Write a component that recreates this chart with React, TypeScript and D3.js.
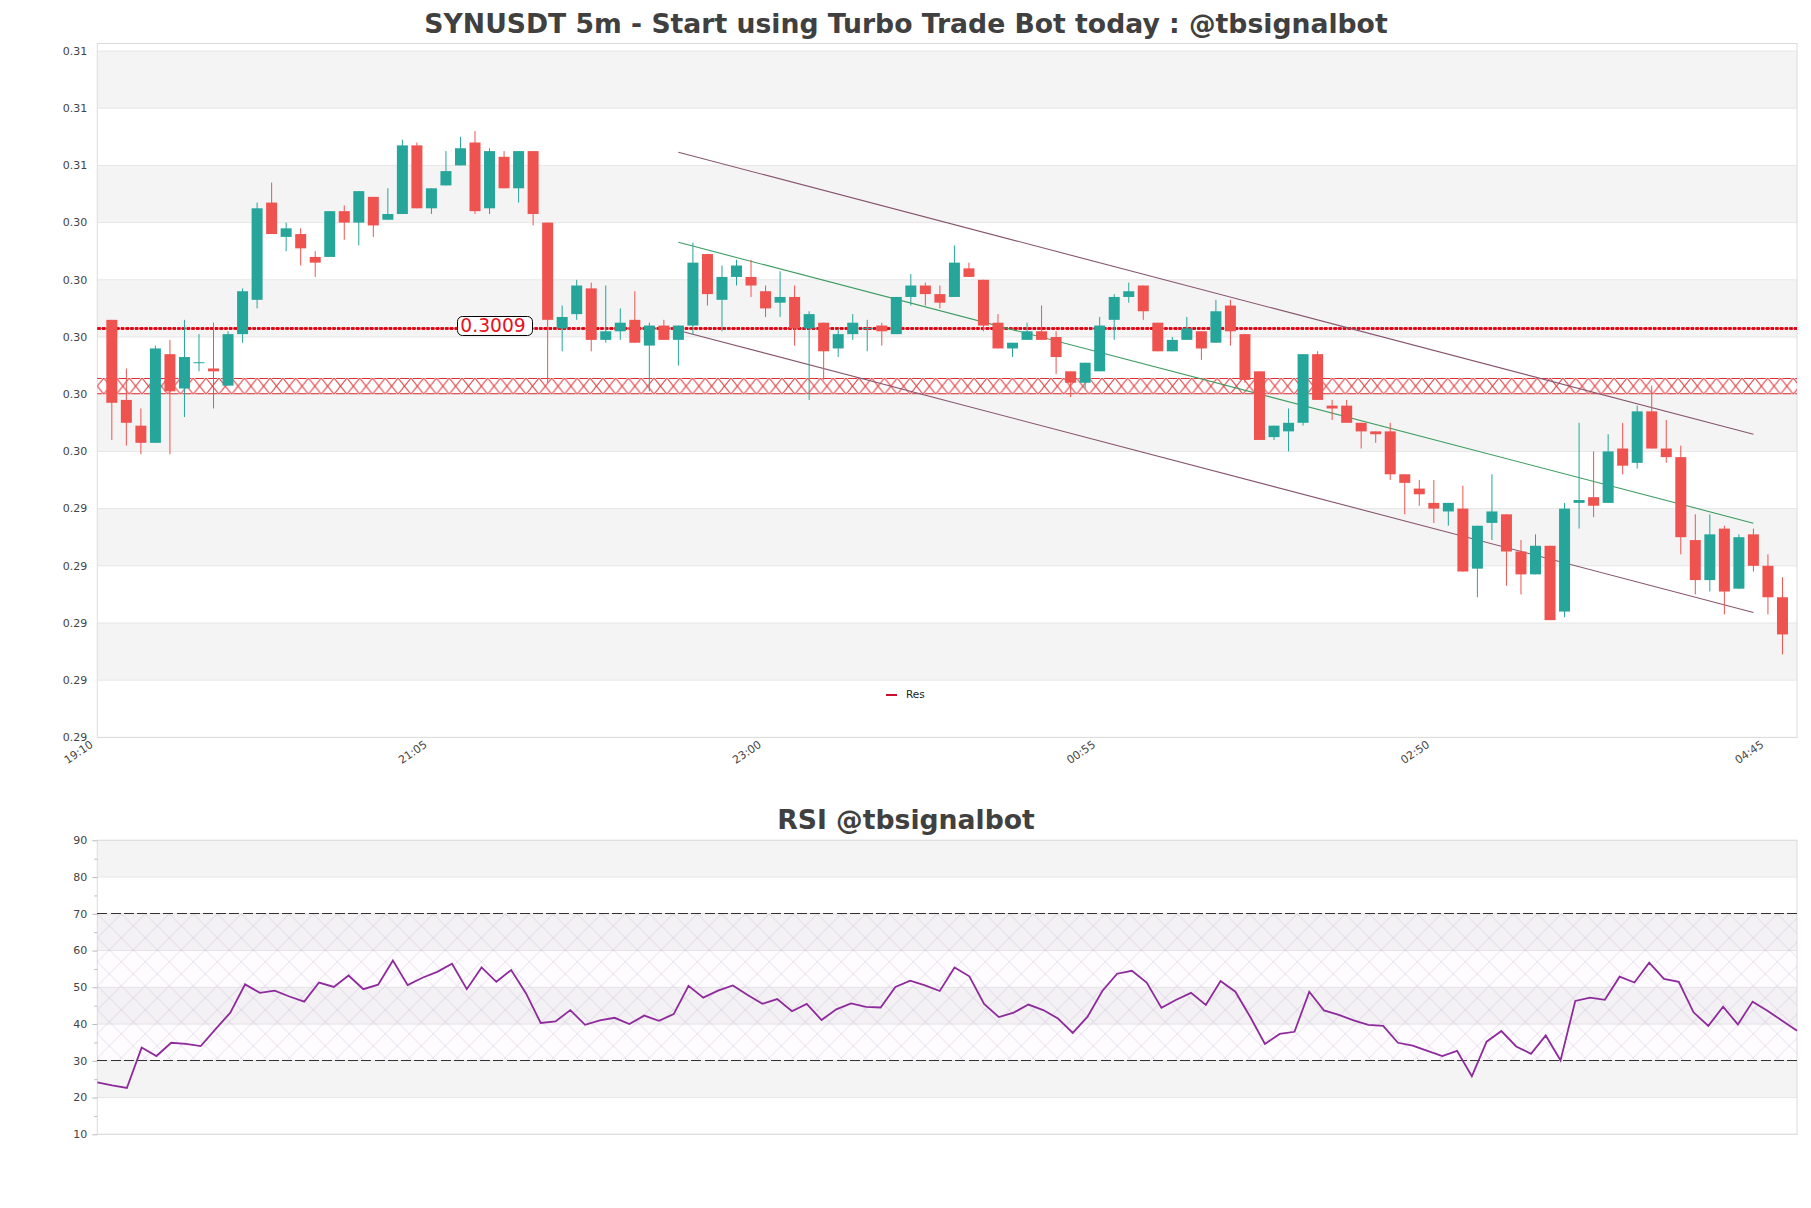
import { useEffect, useRef } from 'react'
import { axisBottom, axisLeft, format, line, scaleLinear, select } from 'd3'

const timeLabels = ['19:10', '21:05', '23:00', '00:55', '02:50', '04:45']
const priceTicks = [0.2866, 0.2886, 0.2906, 0.2926, 0.2946, 0.2966, 0.2986, 0.3006, 0.3026, 0.3046, 0.3066, 0.3086, 0.3106]
const rsiTicks = [10, 20, 30, 40, 50, 60, 70, 80, 90]
const rsiMinorTicks = [15, 25, 35, 45, 55, 65, 75, 85]

const opens = [
    0.3012, 0.2984, 0.2975, 0.2969, 0.3, 0.2988, 0.2997, 0.2995, 0.2989, 0.3007, 0.3019, 0.3053, 0.3041, 0.3042, 0.3034,
    0.3034, 0.305, 0.3046, 0.3055, 0.3047, 0.3049, 0.3073, 0.3051, 0.3059, 0.3066, 0.3074, 0.3051, 0.3069, 0.3058, 0.3071,
    0.3046, 0.3009, 0.3014, 0.3023, 0.3005, 0.3008, 0.3012, 0.3003, 0.301, 0.3005, 0.301, 0.3035, 0.3019, 0.3027, 0.3027,
    0.3022, 0.3018, 0.302, 0.3009, 0.3011, 0.3002, 0.3007, 0.3009, 0.301, 0.3007, 0.302, 0.3024, 0.3021, 0.302, 0.303,
    0.3026, 0.3011, 0.3002, 0.3005, 0.3008, 0.3006, 0.2994, 0.299, 0.2994, 0.3012, 0.302, 0.3024, 0.3011, 0.3001, 0.3005,
    0.3008, 0.3004, 0.3017, 0.3007, 0.2994, 0.2971, 0.2973, 0.2976, 0.3, 0.2982, 0.2982, 0.2976, 0.2973, 0.2973, 0.2958,
    0.2953, 0.2948, 0.2945, 0.2946, 0.2925, 0.2941, 0.2944, 0.2931, 0.2923, 0.2933, 0.291, 0.2948, 0.295, 0.2948, 0.2967,
    0.2962, 0.298, 0.2967, 0.2964, 0.2935, 0.2921, 0.2939, 0.2918, 0.2937, 0.2926, 0.2915,
]
const closes = [
    0.2983, 0.2976, 0.2969, 0.3002, 0.2987, 0.2999, 0.2997, 0.2994, 0.3007, 0.3022, 0.3051, 0.3042, 0.3044, 0.3037, 0.3032,
    0.305, 0.3046, 0.3057, 0.3045, 0.3049, 0.3073, 0.3051, 0.3058, 0.3064, 0.3072, 0.305, 0.3071, 0.3058, 0.3071, 0.3049,
    0.3012, 0.3013, 0.3024, 0.3005, 0.3008, 0.3011, 0.3004, 0.301, 0.3005, 0.301, 0.3032, 0.3021, 0.3027, 0.3031, 0.3024,
    0.3016, 0.302, 0.3009, 0.3014, 0.3001, 0.3007, 0.3011, 0.3009, 0.3008, 0.302, 0.3024, 0.3021, 0.3018, 0.3032, 0.3027,
    0.301, 0.3002, 0.3004, 0.3008, 0.3005, 0.2999, 0.299, 0.2997, 0.301, 0.302, 0.3022, 0.3015, 0.3001, 0.3005, 0.3009,
    0.3002, 0.3015, 0.3008, 0.2991, 0.297, 0.2975, 0.2976, 0.3, 0.2984, 0.2981, 0.2976, 0.2973, 0.2972, 0.2958, 0.2955,
    0.2951, 0.2946, 0.2948, 0.2924, 0.294, 0.2945, 0.2931, 0.2923, 0.2933, 0.2907, 0.2946, 0.2949, 0.2947, 0.2966, 0.2961,
    0.298, 0.2967, 0.2964, 0.2936, 0.2921, 0.2937, 0.2917, 0.2936, 0.2926, 0.2915, 0.2902,
]
const highs = [
    0.3012, 0.2995, 0.2981, 0.3003, 0.3005, 0.3012, 0.3007, 0.3011, 0.3008, 0.3023, 0.3053, 0.306, 0.3046, 0.3044, 0.3036,
    0.305, 0.3052, 0.3057, 0.3055, 0.3058, 0.3075, 0.3074, 0.3058, 0.3071, 0.3076, 0.3078, 0.3072, 0.3071, 0.3071, 0.3071,
    0.3046, 0.3017, 0.3026, 0.3025, 0.3024, 0.3016, 0.3022, 0.3011, 0.3012, 0.301, 0.3039, 0.3035, 0.3031, 0.3033, 0.3033,
    0.3024, 0.3029, 0.3024, 0.3015, 0.3011, 0.3009, 0.3014, 0.3012, 0.3011, 0.302, 0.3028, 0.3025, 0.3024, 0.3038, 0.3032,
    0.3026, 0.3014, 0.3004, 0.3011, 0.3017, 0.3008, 0.2994, 0.2997, 0.3013, 0.3021, 0.3025, 0.3024, 0.3011, 0.3006, 0.3013,
    0.3008, 0.3019, 0.3019, 0.3007, 0.2994, 0.2975, 0.2981, 0.3, 0.3001, 0.2984, 0.2984, 0.2976, 0.2973, 0.2976, 0.2958,
    0.2956, 0.2956, 0.2948, 0.2954, 0.294, 0.2958, 0.2944, 0.2935, 0.2937, 0.2933, 0.2948, 0.2976, 0.2966, 0.2972, 0.2976,
    0.2982, 0.2989, 0.2977, 0.2968, 0.2944, 0.2944, 0.294, 0.2937, 0.2939, 0.293, 0.2922,
]
const lows = [
    0.297, 0.2968, 0.2965, 0.2969, 0.2965, 0.2978, 0.2994, 0.2981, 0.2989, 0.3004, 0.3016, 0.3042, 0.3036, 0.3031, 0.3027,
    0.3034, 0.304, 0.3038, 0.3041, 0.3047, 0.3049, 0.3051, 0.3049, 0.3059, 0.3066, 0.3049, 0.3049, 0.3058, 0.3053, 0.3045,
    0.299, 0.3001, 0.3012, 0.3001, 0.3004, 0.3005, 0.3004, 0.2987, 0.3005, 0.2996, 0.3007, 0.3017, 0.3008, 0.3024, 0.302,
    0.3013, 0.3013, 0.3003, 0.2984, 0.2991, 0.2999, 0.3005, 0.3001, 0.3003, 0.3007, 0.3017, 0.3017, 0.3016, 0.302, 0.3027,
    0.3008, 0.3002, 0.2999, 0.3005, 0.3005, 0.2993, 0.2985, 0.2988, 0.2994, 0.3005, 0.3018, 0.3012, 0.3001, 0.3001, 0.3005,
    0.2998, 0.3004, 0.3003, 0.299, 0.297, 0.297, 0.2966, 0.2975, 0.2984, 0.2977, 0.2976, 0.2967, 0.2969, 0.2956, 0.2944,
    0.2947, 0.2941, 0.294, 0.2924, 0.2915, 0.2935, 0.2919, 0.2916, 0.2923, 0.2907, 0.2908, 0.2939, 0.2943, 0.2948, 0.2958,
    0.296, 0.2967, 0.2962, 0.293, 0.2916, 0.2917, 0.2909, 0.2918, 0.2924, 0.2909, 0.2895,
]

const rsiValues = [
    24.1, 23.3, 22.6, 33.6, 31.3, 34.9, 34.6, 34.0, 38.6, 43.1, 50.8, 48.5, 49.1, 47.5, 46.1, 51.3, 50.1, 53.2, 49.5, 50.7,
    57.3, 50.6, 52.6, 54.2, 56.4, 49.5, 55.4, 51.5, 54.7, 48.4, 40.3, 40.7, 43.8, 39.8, 41.0, 41.7, 40.0, 42.3, 40.9, 42.7,
    50.4, 47.2, 49.1, 50.5, 47.9, 45.5, 46.8, 43.5, 45.5, 41.1, 44.0, 45.6, 44.7, 44.5, 50.1, 51.8, 50.5, 49.0, 55.4, 53.0,
    45.5, 41.9, 43.1, 45.3, 43.8, 41.5, 37.6, 42.0, 49.0, 53.7, 54.5, 51.3, 44.4, 46.6, 48.5, 45.2, 51.7, 48.8, 42.0, 34.6,
    37.3, 37.9, 48.8, 43.7, 42.5, 41.0, 39.8, 39.5, 34.9, 34.1, 32.7, 31.3, 32.7, 25.8, 35.2, 38.1, 33.9, 31.9, 36.9, 30.1,
    46.3, 47.2, 46.6, 52.9, 51.3, 56.7, 52.3, 51.5, 43.2, 39.5, 44.7, 39.9, 46.1, 43.6, 40.9, 38.2,
]

const resLevel = 0.3009
const resZone = [0.2992, 0.2986]
const channelSlots = [40, 114]
const channelUpper = [0.30706, 0.2972]
const channelMiddle = [0.30391, 0.29409]
const channelLower = [0.30083, 0.29097]
const rsiLevels = [70, 30]

const title = 'SYNUSDT 5m - Start using Turbo Trade Bot today : @tbsignalbot'
const rsiTitle = 'RSI @tbsignalbot'

const width = 1811
const height = 1208
const left = 97.3
const right = 1797
const slotCount = 117
const fontFamily = '"DejaVu Sans", sans-serif'
const textColor = '#444'
const bandColor = '#f4f4f4'
const gridColor = '#e6e6e6'
const borderColor = '#dcdcdc'
const upColor = '#26a69a'
const downColor = '#ef5350'

const x = scaleLinear().domain([0, slotCount]).range([left, right])
const y = scaleLinear().domain([priceTicks[0], priceTicks[12]]).range([737.4, 51])
const rsiX = scaleLinear().domain([0, rsiValues.length - 1]).range([left, right])
const rsiY = scaleLinear().domain([10, 90]).range([1134.3, 840.3])

function PriceAxis() {
    const ref = useRef<SVGGElement>(null)

    useEffect(() => {
        if (ref.current) {
            const g = select(ref.current)
            g.call(axisLeft(y).tickValues(priceTicks).tickFormat(format('.2f') as any).tickSize(0).tickPadding(10))
            g.select('.domain').remove()
            g.selectAll('text')
                .attr('fill', textColor)
                .style('font-family', fontFamily)
                .style('font-size', '11px')
                .attr('dy', '0.3em')
        }
    }, [])

    return <g ref={ref} transform={`translate(${left}, 0)`} />
}

function TimeAxis() {
    const ref = useRef<SVGGElement>(null)

    useEffect(() => {
        if (ref.current) {
            const g = select(ref.current)
            g.call(
                axisBottom(x)
                    .tickValues(timeLabels.map((_, i) => i * 23))
                    .tickFormat((_, i) => timeLabels[i])
                    .tickSize(0)
            )
            g.select('.domain').remove()
            g.selectAll('text')
                .attr('fill', textColor)
                .style('font-family', fontFamily)
                .style('font-size', '11px')
                .style('text-anchor', 'end')
                .attr('dy', 0)
                .attr('y', 0)
                .attr('transform', 'translate(-4, 9) rotate(-34)')
        }
    }, [])

    return <g ref={ref} transform="translate(0, 737.4)" />
}

function RsiAxis() {
    const ref = useRef<SVGGElement>(null)
    const minorRef = useRef<SVGGElement>(null)

    useEffect(() => {
        if (ref.current && minorRef.current) {
            const g = select(ref.current)
            g.call(axisLeft(rsiY).tickValues(rsiTicks).tickSize(5).tickPadding(5))
            g.select('.domain').remove()
            g.selectAll('line').attr('stroke', '#bbb')
            g.selectAll('text')
                .attr('fill', textColor)
                .style('font-family', fontFamily)
                .style('font-size', '11px')
                .attr('dy', '0.3em')
            const minor = select(minorRef.current)
            minor.call(axisLeft(rsiY).tickValues(rsiMinorTicks).tickSize(3).tickFormat(() => ''))
            minor.select('.domain').remove()
            minor.selectAll('line').attr('stroke', '#bbb')
        }
    }, [])

    return (
        <>
            <g ref={ref} transform={`translate(${left}, 0)`} />
            <g ref={minorRef} transform={`translate(${left}, 0)`} />
        </>
    )
}

function Grid({ ticks, scale }: { ticks: number[]; scale: (v: number) => number }) {
    return (
        <>
            {ticks.slice(0, -1).map((t, i) =>
                i % 2 === 1 ? (
                    <rect
                        key={`band-${t}`}
                        x={left}
                        width={right - left}
                        y={scale(ticks[i + 1])}
                        height={scale(t) - scale(ticks[i + 1])}
                        fill={bandColor}
                    />
                ) : null
            )}
            {ticks.map((t) => (
                <line key={`grid-${t}`} x1={left} x2={right} y1={scale(t)} y2={scale(t)} stroke={gridColor} />
            ))}
        </>
    )
}

function Candles() {
    return (
        <>
            {opens.map((open, i) => {
                const close = closes[i]
                const color = close >= open ? upColor : downColor
                const cx = x(i + 1)
                const top = y(Math.max(open, close))
                const bottom = y(Math.min(open, close))
                return (
                    <g key={`candle-${i}`}>
                        <line x1={cx} x2={cx} y1={y(highs[i])} y2={y(lows[i])} stroke={color} />
                        {open === close ? (
                            <line x1={cx - 5.5} x2={cx + 5.5} y1={top} y2={top} stroke={color} />
                        ) : (
                            <rect x={cx - 5.5} y={top} width={11} height={bottom - top} fill={color} />
                        )}
                    </g>
                )
            })}
        </>
    )
}

function ChannelLine({ values, color }: { values: number[]; color: string }) {
    return (
        <line
            x1={x(channelSlots[0])}
            x2={x(channelSlots[1])}
            y1={y(values[0])}
            y2={y(values[1])}
            stroke={color}
            strokeWidth={1.1}
        />
    )
}

export default function App() {
    const resY = y(resLevel)
    const zoneTop = y(resZone[0]) + 1
    const zoneBottom = y(resZone[1])
    const zoneHeight = zoneBottom - zoneTop
    const rsiPath = line<number>()
        .x((_, i) => rsiX(i))
        .y((d) => rsiY(d))(rsiValues)
    const hatchTop = rsiY(rsiLevels[0])
    const hatchBottom = rsiY(rsiLevels[1])

    return (
        <svg
            width={width}
            height={height}
            style={{ position: 'absolute', left: 0, top: 0, background: '#fff', display: 'block' }}
        >
            <defs>
                <pattern
                    id="res-hatch"
                    patternUnits="userSpaceOnUse"
                    width={12.8}
                    height={zoneHeight}
                    patternTransform={`translate(${left + 6.4}, ${zoneTop})`}
                >
                    <path
                        d={`M0,0L12.8,${zoneHeight}M12.8,0L0,${zoneHeight}`}
                        stroke="#e0242a"
                        strokeWidth={1}
                        fill="none"
                    />
                    <path
                        d={`M2,0.5H10.8M2,${zoneHeight - 0.5}H10.8`}
                        stroke="#e0242a"
                        strokeWidth={1.1}
                        fill="none"
                    />
                </pattern>
                <pattern
                    id="rsi-hatch"
                    patternUnits="userSpaceOnUse"
                    width={24}
                    height={24}
                    patternTransform={`translate(${left}, ${hatchTop})`}
                >
                    <path
                        d="M0,0L24,24M24,0L0,24M12,-12L36,12M-12,12L12,36M12,-12L-12,12M36,12L12,36"
                        stroke="#bba8d0"
                        strokeOpacity={0.5}
                        strokeWidth={0.7}
                        fill="none"
                    />
                </pattern>
            </defs>

            <text
                x={906}
                y={32.5}
                textAnchor="middle"
                fontFamily={fontFamily}
                fontWeight="bold"
                fontSize={26.65}
                fill="#404040"
            >
                {title}
            </text>

            <Grid ticks={priceTicks} scale={y} />
            <rect x={left} y={43.5} width={right - left} height={737.4 - 43.5} fill="none" stroke={borderColor} />
            <PriceAxis />
            <TimeAxis />

            <rect x={left} y={zoneTop} width={right - left} height={zoneHeight} fill="url(#res-hatch)" />
            <line x1={left} x2={right} y1={resY} y2={resY} stroke="#e8101c" strokeWidth={3} strokeDasharray="3.5 1.2" />
            <line x1={left} x2={right} y1={resY} y2={resY} stroke="#b8001a" strokeWidth={1} strokeDasharray="1 1" />

            <ChannelLine values={channelUpper} color="#87566e" />
            <ChannelLine values={channelMiddle} color="#3f9d62" />
            <ChannelLine values={channelLower} color="#87566e" />
            <Candles />

            <rect x={457.5} y={316.5} width={75} height={19} rx={5} fill="#fff" stroke="#000" />
            <text x={493} y={332} textAnchor="middle" fontFamily={fontFamily} fontSize={18.7} fill="#e8101c">
                {format('.4f')(resLevel)}
            </text>

            <line x1={886} x2={897} y1={695} y2={695} stroke="#c8102e" strokeWidth={2} />
            <text x={906} y={698} fontFamily={fontFamily} fontSize={10.5} fill="#222">
                Res
            </text>

            <text
                x={906}
                y={829}
                textAnchor="middle"
                fontFamily={fontFamily}
                fontWeight="bold"
                fontSize={26.65}
                fill="#404040"
            >
                {rsiTitle}
            </text>

            <Grid ticks={rsiTicks} scale={rsiY} />
            <rect x={left} y={840.3} width={right - left} height={1134.3 - 840.3} fill="none" stroke={borderColor} />
            <RsiAxis />

            <rect x={left} y={hatchTop} width={right - left} height={hatchBottom - hatchTop} fill="#8e2a9c" fillOpacity={0.012} />
            <rect x={left} y={hatchTop} width={right - left} height={hatchBottom - hatchTop} fill="url(#rsi-hatch)" />
            {rsiLevels.map((level) => (
                <line
                    key={`level-${level}`}
                    x1={left}
                    x2={right}
                    y1={rsiY(level)}
                    y2={rsiY(level)}
                    stroke="#333"
                    strokeDasharray="10 3.2"
                    shapeRendering="crispEdges"
                />
            ))}
            <path d={rsiPath ?? ''} fill="none" stroke="#8e2a9c" strokeWidth={1.8} />
        </svg>
    )
}
